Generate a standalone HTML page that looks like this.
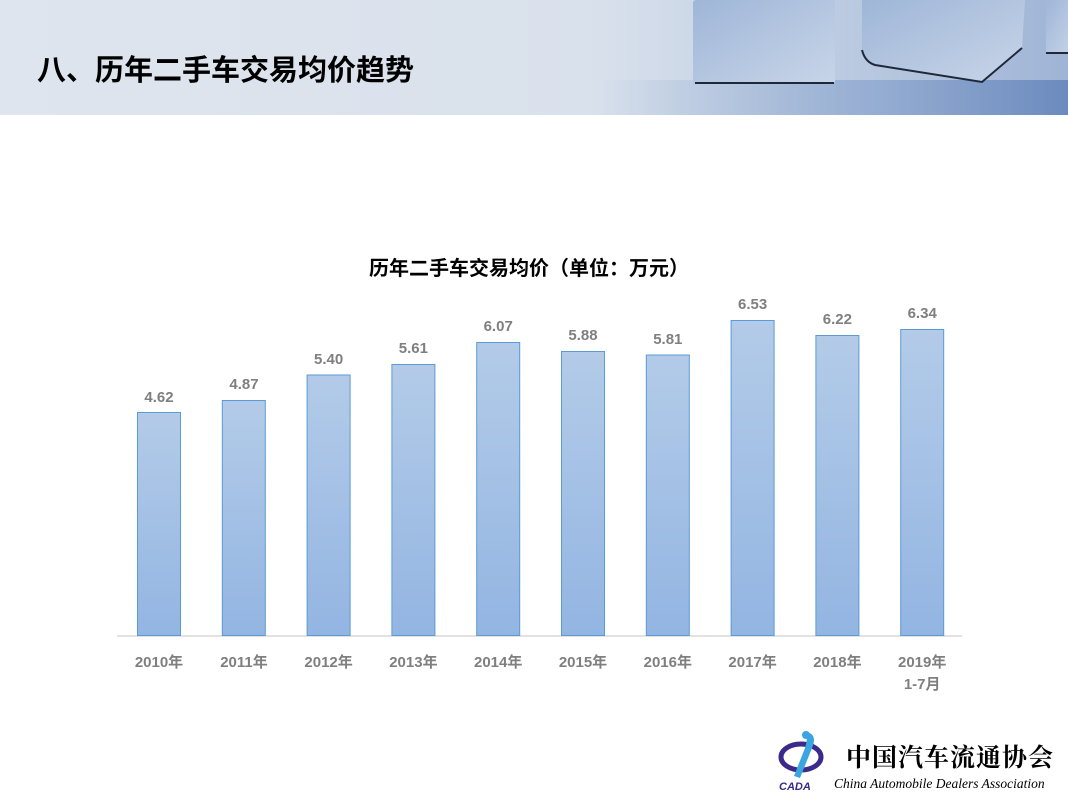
<!DOCTYPE html>
<html><head><meta charset="utf-8"><style>
body{margin:0;width:1068px;height:798px;overflow:hidden;background:#fff;font-family:"Liberation Sans","Noto Sans CJK SC",sans-serif}
</style></head><body>
<svg width="1068" height="798" viewBox="0 0 1068 798" xmlns="http://www.w3.org/2000/svg">
<defs>
<linearGradient id="hd" x1="0" y1="0" x2="1" y2="0">
<stop offset="0" stop-color="#dfe5ee"/><stop offset="0.55" stop-color="#d9e1ec"/><stop offset="0.7" stop-color="#c7d4e6"/><stop offset="1" stop-color="#9fb4d6"/>
</linearGradient>
<linearGradient id="bot" x1="0" y1="0" x2="1" y2="0">
<stop offset="0" stop-color="#7e9bc8" stop-opacity="0"/><stop offset="0.6" stop-color="#7e9bc8" stop-opacity="0.6"/><stop offset="1" stop-color="#5f80b8" stop-opacity="0.8"/>
</linearGradient>
<linearGradient id="cube" x1="0" y1="0" x2="1" y2="1">
<stop offset="0" stop-color="#9fb6d8"/><stop offset="1" stop-color="#c8d5e8"/>
</linearGradient>
<linearGradient id="bar" x1="0" y1="0" x2="0" y2="1">
<stop offset="0" stop-color="#b3cbe8"/><stop offset="1" stop-color="#93b5e2"/>
</linearGradient>
</defs>
<rect x="0" y="0" width="1068" height="115" fill="url(#hd)"/>
<rect x="600" y="80" width="468" height="35" fill="url(#bot)"/>
<rect x="693" y="0" width="142" height="84" rx="3" fill="url(#cube)"/>
<path d="M695 83 L834 83" stroke="#1e2838" stroke-width="2"/>
<path d="M862 0 L862 55 Q865 62 875 65 L982 82 L1022 48 L1025 0 Z" fill="url(#cube)"/>
<path d="M862 50 Q865 62 875 65 L982 82 L1022 48" fill="none" stroke="#1e2838" stroke-width="2"/>
<rect x="1046" y="0" width="30" height="54" rx="3" fill="url(#cube)"/>
<path d="M1046 53 L1068 53" stroke="#1e2838" stroke-width="2"/>
<text x="37" y="80" font-size="29" font-weight="bold" fill="#000">八、历年二手车交易均价趋势</text>
<text x="529" y="275" font-size="20" font-weight="bold" fill="#000" text-anchor="middle">历年二手车交易均价（单位：万元）</text>
<line x1="117" y1="636" x2="962" y2="636" stroke="#d9d9d9" stroke-width="1.5"/>
<g stroke="#5b9bd5" stroke-width="1" fill="url(#bar)">
<rect x="137.5" y="412.5" width="43" height="223"/>
<rect x="222.3" y="400.5" width="43" height="235"/>
<rect x="307.1" y="375" width="43" height="260.5"/>
<rect x="391.9" y="364.5" width="43" height="271"/>
<rect x="476.7" y="342.5" width="43" height="293"/>
<rect x="561.5" y="351.5" width="43" height="284"/>
<rect x="646.3" y="355" width="43" height="280.5"/>
<rect x="731.1" y="320.5" width="43" height="315"/>
<rect x="815.9" y="335.5" width="43" height="300"/>
<rect x="900.7" y="329.5" width="43" height="306"/>
</g>
<g font-size="15" font-weight="bold" fill="#7f7f7f" text-anchor="middle">
<text x="159" y="402">4.62</text>
<text x="244" y="389">4.87</text>
<text x="328.6" y="364">5.40</text>
<text x="413.4" y="353">5.61</text>
<text x="498.2" y="331">6.07</text>
<text x="583" y="340">5.88</text>
<text x="667.8" y="344">5.81</text>
<text x="752.6" y="309">6.53</text>
<text x="837.4" y="324">6.22</text>
<text x="922.2" y="318">6.34</text>
</g>
<g font-size="15" font-weight="bold" fill="#7f7f7f" text-anchor="middle">
<text x="159" y="667">2010年</text>
<text x="244" y="667">2011年</text>
<text x="328.6" y="667">2012年</text>
<text x="413.4" y="667">2013年</text>
<text x="498.2" y="667">2014年</text>
<text x="583" y="667">2015年</text>
<text x="667.8" y="667">2016年</text>
<text x="752.6" y="667">2017年</text>
<text x="837.4" y="667">2018年</text>
<text x="922.2" y="667">2019年</text>
<text x="922.2" y="689">1-7月</text>
</g>
<g>
<ellipse cx="801" cy="757" rx="20" ry="13" fill="none" stroke="#3b2a8a" stroke-width="5"/>
<path d="M806 732 Q818 734 812 748 L800 778 L794 776 L805 748 Q808 738 806 732Z" fill="#3aa5e0"/>
<circle cx="806" cy="735" r="4" fill="#3aa5e0"/>
<text x="779" y="790" font-size="11" font-weight="bold" font-style="italic" fill="#3b2a8a">CADA</text>
<text x="846" y="766" font-size="25" font-weight="bold" fill="#000" font-family="'Noto Serif CJK SC',serif" letter-spacing="1">中国汽车流通协会</text>
<text x="834" y="788" font-size="13.5" font-style="italic" fill="#000" font-family="'Liberation Serif',serif">China Automobile Dealers Association</text>
</g>
</svg>
</body></html>
